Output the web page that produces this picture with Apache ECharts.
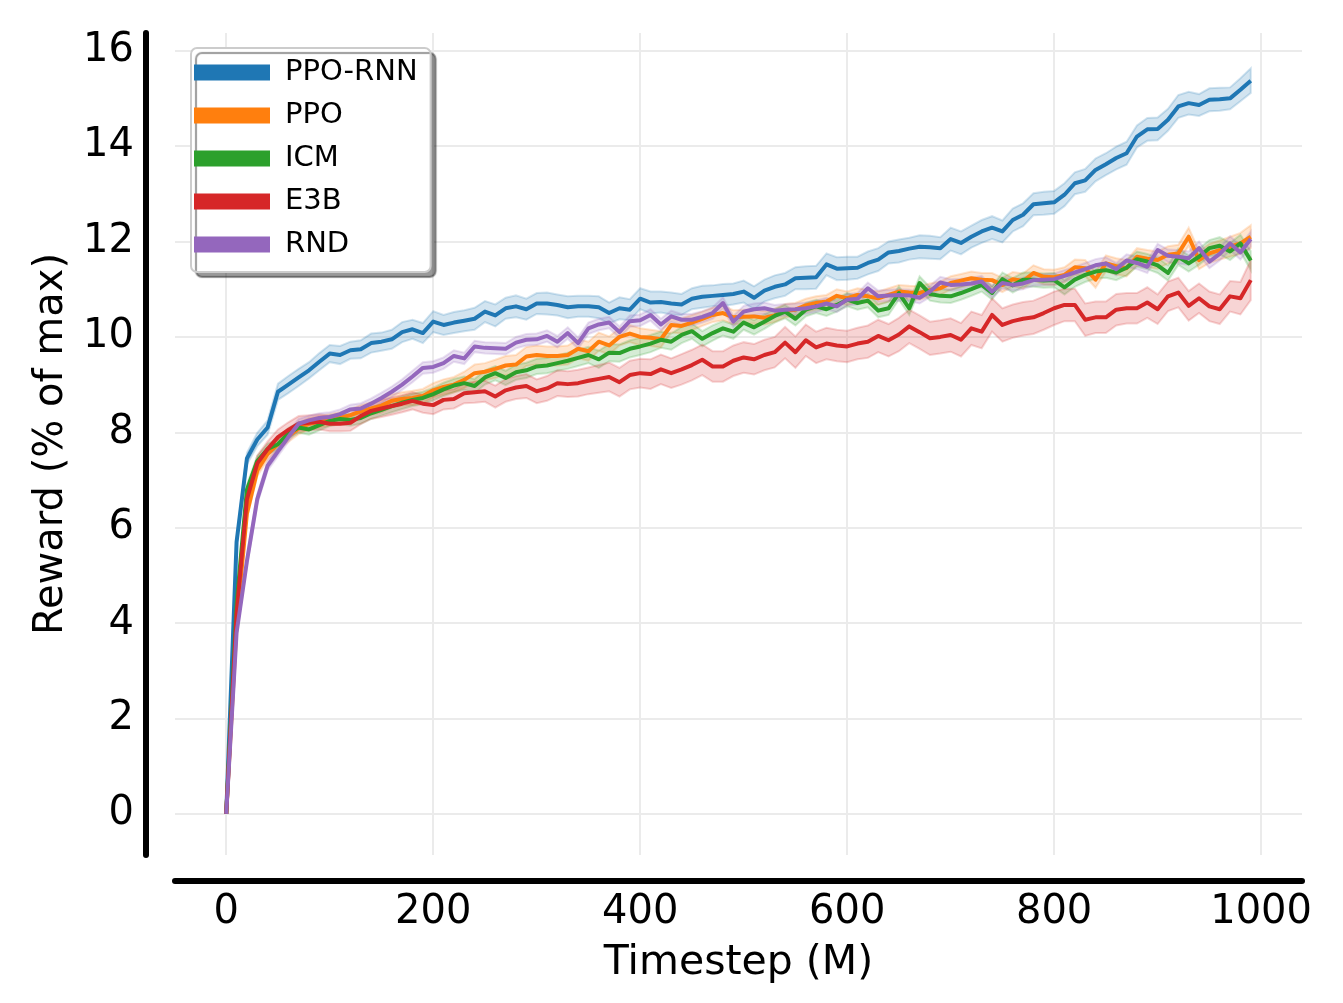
<!DOCTYPE html>
<html>
<head>
<meta charset="utf-8">
<script src="https://cdn.jsdelivr.net/npm/echarts@6/dist/echarts.min.js"></script>
<style>
  html, body { margin: 0; padding: 0; background: #fff; }
  #chart { width: 1343px; height: 1003px; }
</style>
</head>
<body>
<div id="chart"></div>
<script>
// Reward curves (mean and half-width of the shaded band)

const steps = [
    0, 10, 20, 30, 40, 50, 60, 70, 80, 90,
    100, 110, 120, 130, 140, 150, 160, 170, 180, 190,
    200, 210, 220, 230, 240, 250, 260, 270, 280, 290,
    300, 310, 320, 330, 340, 350, 360, 370, 380, 390,
    400, 410, 420, 430, 440, 450, 460, 470, 480, 490,
    500, 510, 520, 530, 540, 550, 560, 570, 580, 590,
    600, 610, 620, 630, 640, 650, 660, 670, 680, 690,
    700, 710, 720, 730, 740, 750, 760, 770, 780, 790,
    800, 810, 820, 830, 840, 850, 860, 870, 880, 890,
    900, 910, 920, 930, 940, 950, 960, 970, 980, 990,
];

const seriesNames = ["PPO-RNN", "PPO", "ICM", "E3B", "RND"];
const seriesColors = ["#1f77b4", "#ff7f0e", "#2ca02c", "#d62728", "#9467bd"];

const ppoRnn = [
    0, 5.7, 7.45, 7.85, 8.1, 8.85, 9.0, 9.15, 9.3, 9.48,
    9.65, 9.62, 9.72, 9.74, 9.87, 9.9, 9.95, 10.1, 10.16, 10.08,
    10.32, 10.25, 10.3, 10.34, 10.38, 10.53, 10.45, 10.6, 10.64, 10.58,
    10.7, 10.7, 10.67, 10.62, 10.64, 10.64, 10.62, 10.5, 10.6, 10.57,
    10.8, 10.72, 10.73, 10.7, 10.68, 10.8, 10.84, 10.86, 10.88, 10.9,
    10.95, 10.82, 10.97, 11.05, 11.1, 11.23, 11.24, 11.25, 11.52, 11.43,
    11.44, 11.45, 11.55, 11.62, 11.77, 11.8, 11.85, 11.89, 11.88, 11.86,
    12.05, 11.97, 12.1, 12.21, 12.29, 12.21, 12.45, 12.56, 12.78, 12.8,
    12.82, 12.98, 13.22, 13.28, 13.5, 13.62, 13.75, 13.85, 14.2, 14.35,
    14.36, 14.55, 14.83, 14.9, 14.86, 14.97, 14.98, 15.0, 15.18, 15.37,
];
const ppo = [
    0, 4.0, 6.3, 7.2, 7.55, 7.75, 7.92, 8.08, 8.18, 8.22,
    8.26, 8.3, 8.36, 8.44, 8.5, 8.56, 8.66, 8.7, 8.72, 8.76,
    8.88, 8.95, 9.0, 9.1, 9.24, 9.27, 9.33, 9.4, 9.42, 9.59,
    9.62, 9.6, 9.6, 9.62, 9.75, 9.7, 9.9, 9.82, 10.0, 10.07,
    10.0, 9.98, 9.95, 10.25, 10.23, 10.3, 10.38, 10.46, 10.5, 10.41,
    10.42, 10.43, 10.4, 10.45, 10.55, 10.57, 10.66, 10.71, 10.74, 10.86,
    10.81, 10.88, 10.85, 10.81, 10.88, 10.95, 10.93, 10.92, 10.98, 11.02,
    11.13, 11.18, 11.23, 11.2, 11.19, 11.09, 11.21, 11.17, 11.34, 11.26,
    11.25, 11.3, 11.46, 11.44, 11.2, 11.54, 11.48, 11.44, 11.68, 11.64,
    11.61, 11.72, 11.75, 12.1, 11.61, 11.75, 11.82, 11.89, 11.96, 12.1,
];
const icm = [
    0, 4.4, 6.8, 7.4, 7.65, 7.75, 7.98, 8.1, 8.06, 8.15,
    8.24, 8.28, 8.26, 8.3, 8.4, 8.47, 8.55, 8.62, 8.68, 8.72,
    8.8, 8.9, 8.98, 9.03, 8.97, 9.15, 9.24, 9.14, 9.26, 9.3,
    9.38, 9.4, 9.45, 9.5, 9.56, 9.62, 9.53, 9.67, 9.66, 9.75,
    9.8, 9.86, 9.94, 9.9, 10.04, 10.12, 9.96, 10.08, 10.18, 10.11,
    10.3, 10.2, 10.32, 10.44, 10.53, 10.38, 10.57, 10.64, 10.58, 10.67,
    10.78, 10.71, 10.76, 10.55, 10.6, 10.92, 10.6, 11.13, 10.9, 10.86,
    10.85, 10.92, 11.0, 11.09, 10.92, 11.21, 11.08, 11.2, 11.2, 11.18,
    11.19, 11.04, 11.2, 11.3, 11.37, 11.4, 11.35, 11.45, 11.63, 11.58,
    11.5, 11.34, 11.68, 11.54, 11.68, 11.86, 11.91, 11.79, 11.96, 11.6,
];
const e3b = [
    0, 4.2, 6.6, 7.35, 7.65, 7.9, 8.05, 8.18, 8.2, 8.22,
    8.18, 8.18, 8.2, 8.34, 8.45, 8.5, 8.55, 8.6, 8.66, 8.6,
    8.57, 8.68, 8.7, 8.82, 8.84, 8.86, 8.75, 8.88, 8.94, 8.97,
    8.86, 8.92, 9.03, 9.01, 9.03, 9.08, 9.12, 9.16, 9.05, 9.2,
    9.24, 9.22, 9.32, 9.24, 9.32, 9.41, 9.52, 9.38, 9.38, 9.5,
    9.57, 9.53, 9.62, 9.68, 9.88, 9.68, 9.93, 9.78, 9.86, 9.82,
    9.8, 9.86, 9.9, 10.02, 9.93, 10.05, 10.22, 10.1, 9.97, 10.0,
    10.04, 9.94, 10.18, 10.11, 10.46, 10.25, 10.33, 10.38, 10.41, 10.5,
    10.6, 10.67, 10.67, 10.36, 10.41, 10.41, 10.57, 10.6, 10.6, 10.72,
    10.58, 10.85, 10.93, 10.65, 10.81, 10.64, 10.58, 10.85, 10.81, 11.19,
];
const rnd = [
    0, 3.8, 5.3, 6.6, 7.3, 7.6, 7.9, 8.18, 8.25, 8.3,
    8.32, 8.38, 8.48, 8.5, 8.6, 8.72, 8.85, 9.0, 9.17, 9.35,
    9.37, 9.45, 9.6, 9.55, 9.8, 9.77, 9.76, 9.75, 9.88, 9.94,
    9.95, 10.02, 9.9, 10.08, 9.87, 10.18, 10.26, 10.3, 10.1, 10.33,
    10.35, 10.46, 10.26, 10.43, 10.36, 10.36, 10.42, 10.5, 10.71, 10.32,
    10.53, 10.58, 10.6, 10.55, 10.57, 10.58, 10.6, 10.64, 10.7, 10.64,
    10.78, 10.8, 11.02, 10.85, 10.87, 10.88, 10.87, 10.82, 10.95, 11.14,
    11.09, 11.1, 11.12, 11.16, 10.95, 11.13, 11.09, 11.12, 11.19, 11.2,
    11.21, 11.28, 11.35, 11.42, 11.5, 11.54, 11.42, 11.6, 11.55, 11.47,
    11.82, 11.7, 11.68, 11.65, 11.86, 11.58, 11.74, 11.96, 11.77, 12.05,
];

// half-width of each shaded band
const ppoRnnBand = [
    0, 0.08, 0.12, 0.14, 0.15, 0.17, 0.18, 0.18, 0.17, 0.18,
    0.18, 0.19, 0.18, 0.19, 0.2, 0.19, 0.2, 0.21, 0.2, 0.21,
    0.22, 0.21, 0.22, 0.22, 0.23, 0.22, 0.23, 0.22, 0.23, 0.22,
    0.22, 0.23, 0.22, 0.23, 0.22, 0.22, 0.23, 0.22, 0.23, 0.22,
    0.22, 0.23, 0.22, 0.23, 0.22, 0.22, 0.23, 0.22, 0.23, 0.22,
    0.23, 0.24, 0.23, 0.24, 0.24, 0.23, 0.24, 0.24, 0.23, 0.24,
    0.24, 0.23, 0.24, 0.24, 0.23, 0.24, 0.23, 0.24, 0.24, 0.23,
    0.24, 0.24, 0.23, 0.24, 0.24, 0.23, 0.24, 0.24, 0.23, 0.24,
    0.24, 0.24, 0.23, 0.24, 0.24, 0.23, 0.24, 0.24, 0.23, 0.24,
    0.24, 0.23, 0.24, 0.24, 0.23, 0.24, 0.24, 0.23, 0.24, 0.26,
];
const ppoBand = [
    0, 0.06, 0.1, 0.12, 0.12, 0.12, 0.12, 0.12, 0.12, 0.12,
    0.12, 0.12, 0.13, 0.13, 0.13, 0.14, 0.14, 0.14, 0.15, 0.15,
    0.15, 0.16, 0.16, 0.17, 0.18, 0.18, 0.19, 0.2, 0.2, 0.2,
    0.2, 0.2, 0.2, 0.2, 0.2, 0.2, 0.19, 0.19, 0.18, 0.18,
    0.18, 0.17, 0.17, 0.16, 0.16, 0.16, 0.15, 0.15, 0.15, 0.15,
    0.15, 0.15, 0.14, 0.14, 0.14, 0.14, 0.14, 0.14, 0.14, 0.14,
    0.14, 0.14, 0.14, 0.14, 0.14, 0.14, 0.14, 0.14, 0.14, 0.14,
    0.14, 0.14, 0.14, 0.14, 0.15, 0.15, 0.15, 0.16, 0.16, 0.16,
    0.16, 0.16, 0.16, 0.17, 0.17, 0.17, 0.17, 0.17, 0.18, 0.18,
    0.18, 0.18, 0.18, 0.19, 0.19, 0.2, 0.2, 0.21, 0.22, 0.24,
];
const icmBand = [
    0, 0.06, 0.1, 0.11, 0.11, 0.11, 0.11, 0.11, 0.11, 0.11,
    0.11, 0.11, 0.12, 0.12, 0.12, 0.12, 0.13, 0.13, 0.13, 0.13,
    0.13, 0.14, 0.14, 0.14, 0.15, 0.15, 0.15, 0.15, 0.16, 0.16,
    0.16, 0.16, 0.16, 0.17, 0.17, 0.17, 0.18, 0.18, 0.18, 0.18,
    0.18, 0.18, 0.17, 0.17, 0.17, 0.16, 0.16, 0.16, 0.15, 0.15,
    0.15, 0.15, 0.15, 0.14, 0.14, 0.14, 0.14, 0.14, 0.14, 0.14,
    0.14, 0.14, 0.14, 0.14, 0.14, 0.14, 0.14, 0.14, 0.14, 0.14,
    0.14, 0.14, 0.14, 0.14, 0.14, 0.14, 0.15, 0.15, 0.15, 0.15,
    0.15, 0.15, 0.15, 0.15, 0.15, 0.16, 0.16, 0.16, 0.16, 0.16,
    0.16, 0.16, 0.17, 0.17, 0.17, 0.17, 0.18, 0.18, 0.18, 0.2,
];
const e3bBand = [
    0, 0.1, 0.14, 0.16, 0.16, 0.16, 0.16, 0.16, 0.16, 0.16,
    0.16, 0.16, 0.17, 0.17, 0.17, 0.18, 0.18, 0.18, 0.18, 0.19,
    0.19, 0.2, 0.2, 0.21, 0.22, 0.22, 0.23, 0.24, 0.24, 0.25,
    0.25, 0.26, 0.27, 0.27, 0.28, 0.28, 0.29, 0.3, 0.3, 0.3,
    0.3, 0.31, 0.31, 0.31, 0.32, 0.32, 0.32, 0.32, 0.32, 0.32,
    0.32, 0.32, 0.32, 0.32, 0.33, 0.33, 0.33, 0.33, 0.33, 0.33,
    0.33, 0.33, 0.34, 0.34, 0.34, 0.35, 0.35, 0.35, 0.35, 0.35,
    0.35, 0.35, 0.35, 0.35, 0.35, 0.35, 0.35, 0.35, 0.35, 0.35,
    0.35, 0.34, 0.34, 0.34, 0.33, 0.33, 0.33, 0.32, 0.32, 0.32,
    0.31, 0.31, 0.31, 0.31, 0.31, 0.31, 0.31, 0.32, 0.34, 0.42,
];
const rndBand = [
    0, 0.06, 0.1, 0.1, 0.1, 0.1, 0.1, 0.1, 0.1, 0.1,
    0.1, 0.1, 0.1, 0.11, 0.11, 0.11, 0.11, 0.11, 0.12, 0.12,
    0.12, 0.12, 0.12, 0.12, 0.12, 0.12, 0.12, 0.12, 0.12, 0.12,
    0.12, 0.12, 0.12, 0.12, 0.12, 0.12, 0.12, 0.12, 0.12, 0.12,
    0.12, 0.12, 0.12, 0.12, 0.12, 0.12, 0.12, 0.12, 0.12, 0.12,
    0.12, 0.12, 0.12, 0.12, 0.12, 0.12, 0.12, 0.12, 0.12, 0.12,
    0.12, 0.12, 0.12, 0.12, 0.12, 0.12, 0.12, 0.12, 0.12, 0.12,
    0.12, 0.12, 0.12, 0.12, 0.12, 0.12, 0.12, 0.12, 0.12, 0.12,
    0.12, 0.12, 0.12, 0.13, 0.13, 0.13, 0.13, 0.13, 0.13, 0.13,
    0.13, 0.13, 0.14, 0.14, 0.14, 0.14, 0.14, 0.15, 0.15, 0.16,
];

const yTicks = [0, 2, 4, 6, 8, 10, 12, 14, 16];
const xTicks = [0, 200, 400, 600, 800, 1000];

const means = [ppoRnn, ppo, icm, e3b, rnd];
const bands = [ppoRnnBand, ppoBand, icmBand, e3bBand, rndBand];

const FONT = "DejaVu Sans";

function rgba(hex, a) {
    const n = parseInt(hex.slice(1), 16);
    return `rgba(${(n >> 16) & 255}, ${(n >> 8) & 255}, ${n & 255}, ${a})`;
}

function lineSeries(idx) {
    return {
        name: seriesNames[idx],
        type: "line",
        color: seriesColors[idx],
        showSymbol: false,
        symbol: "none",
        lineStyle: { width: 4, color: seriesColors[idx], join: "round" },
        data: steps.map((t, i) => [t, means[idx][i]]),
    };
}

function bandSeries(idx) {
    const mean = means[idx];
    const half = bands[idx];
    const rows = steps.map((t, i) => [t, mean[i] - half[i], mean[i] + half[i]]);
    const color = seriesColors[idx];
    return {
        name: seriesNames[idx] + " band",
        type: "custom",
        silent: true,
        clip: true,
        encode: { x: 0, y: [1, 2] },
        data: rows,
        renderItem: (params, api) => {
            if (params.dataIndex !== 0) return null;
            const upper = rows.map((r) => api.coord([r[0], r[2]]));
            const lower = rows.map((r) => api.coord([r[0], r[1]])).reverse();
            return {
                type: "polygon",
                shape: { points: upper.concat(lower) },
                style: {
                    fill: rgba(color, 0.2),
                    stroke: rgba(color, 0.2),
                    lineWidth: 2,
                },
            };
        },
    };
}

const series = [];
seriesNames.forEach((_, i) => {
    series.push(lineSeries(i));
    series.push(bandSeries(i));
});

const chart = echarts.init(document.getElementById("chart"), null, {
    renderer: "canvas",
});

chart.setOption({
    animation: false,
    backgroundColor: "#ffffff",
    textStyle: { fontFamily: FONT },
    grid: { left: 175, right: 41, top: 33, bottom: 148, containLabel: false },
    legend: {
        data: seriesNames,
        orient: "vertical",
        left: 191,
        top: 48,
        icon: "rect",
        itemWidth: 76,
        itemHeight: 16,
        itemGap: 0,
        padding: [3, 13, 6, 3],
        backgroundColor: "#ffffff",
        borderColor: "#cccccc",
        borderWidth: 2,
        borderRadius: 6,
        shadowColor: "rgba(0, 0, 0, 0.4)",
        shadowBlur: 1,
        shadowOffsetX: 5,
        shadowOffsetY: 5,
        textStyle: {
            fontFamily: FONT,
            fontSize: 29,
            color: "#000",
            lineHeight: 43,
            padding: [0, 0, 0, 10],
        },
    },
    xAxis: {
        type: "value",
        min: -49.5,
        max: 1039.5,
        offset: 26,
        name: "Timestep (M)",
        nameLocation: "middle",
        nameGap: 62,
        nameTextStyle: { fontFamily: FONT, fontSize: 41, color: "#000" },
        axisLine: { show: true, onZero: false, lineStyle: { color: "#000", width: 6 } },
        axisTick: { show: false, customValues: xTicks },
        axisLabel: {
            customValues: xTicks,
            formatter: (v) => String(v),
            fontFamily: FONT,
            fontSize: 40,
            color: "#000",
            margin: 12,
        },
        splitLine: { show: true, lineStyle: { color: "#ebebeb", width: 2 } },
    },
    yAxis: {
        type: "value",
        min: -0.86,
        max: 16.37,
        offset: 29,
        name: "Reward (% of max)",
        nameLocation: "middle",
        nameGap: 74,
        nameTextStyle: { fontFamily: FONT, fontSize: 40, color: "#000" },
        axisLine: { show: true, onZero: false, lineStyle: { color: "#000", width: 6 } },
        axisTick: { show: false, customValues: yTicks },
        axisLabel: {
            customValues: yTicks,
            formatter: (v) => String(v),
            fontFamily: FONT,
            fontSize: 40,
            color: "#000",
            margin: 12,
            padding: [8, 0, 0, 0],
        },
        splitLine: { show: true, lineStyle: { color: "#ebebeb", width: 2 } },
    },
    series,
});
</script>
</body>
</html>
